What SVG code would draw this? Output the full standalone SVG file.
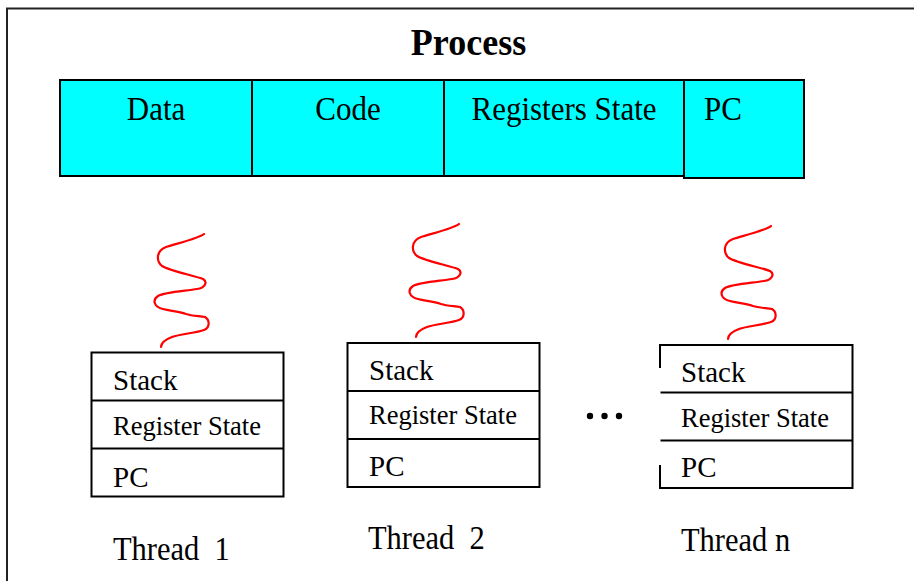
<svg xmlns="http://www.w3.org/2000/svg" xmlns:xlink="http://www.w3.org/1999/xlink" width="914" height="581" viewBox="0 0 914 581">
<style>
.t{font-family:"Liberation Serif","Times New Roman",serif;fill:#000}
.cell{fill:#00FFFF;stroke:#000;stroke-width:2}
.box{fill:#fff;stroke:#000;stroke-width:2}
.ln{stroke:#000;stroke-width:2;fill:none}
.sq{fill:none;stroke:#FF0000;stroke-width:2.2;stroke-linecap:round;stroke-linejoin:round}
</style>
<defs>
<path id="squig" class="sq" d="M204,234 C200,238 175,244 166,247 C156,251 156,261 162,266 C170,271 196,276 203,279 C208,282 205,288 197,289 C185,291 165,292 158,296 C152,300 154,307 163,309 C170,311 178,311 186,314 C192,316 200,316 205,317 C210,320 210,328 204,330 C196,333 180,334 172,337 C164,340 161,344 161,347"/>
</defs>
<rect width="914" height="581" fill="#fff"/>
<rect x="7" y="8.5" width="1000" height="1000" fill="none" stroke="#222" stroke-width="2"/>
<g id="title"><text class="t" font-size="36" font-weight="bold" text-anchor="middle" transform="translate(468.5,55) scale(1,1.05)">Process</text></g>
<g id="process-bar">
<rect class="cell" x="60" y="80" width="192" height="96"/>
<rect class="cell" x="252" y="80" width="192" height="96"/>
<rect class="cell" x="444" y="80" width="240" height="96"/>
<rect class="cell" x="684" y="80" width="120" height="98"/>
<text class="t" font-size="31" transform="translate(156,120) scale(1,1.1)" text-anchor="middle">Data</text>
<text class="t" font-size="31" transform="translate(348,120) scale(1,1.1)" text-anchor="middle">Code</text>
<text class="t" font-size="31" transform="translate(564,120) scale(1,1.1)" text-anchor="middle">Registers State</text>
<text class="t" font-size="31" transform="translate(704,120) scale(1,1.1)">PC</text>
</g>
<g id="threads-links">
<use xlink:href="#squig"/>
<use xlink:href="#squig" transform="translate(255,-10)"/>
<use xlink:href="#squig" transform="translate(567,-8)"/>
</g>
<g id="thread1">
<rect class="box" x="91.5" y="352.5" width="192" height="144"/>
<line class="ln" x1="91.5" y1="400.5" x2="283.5" y2="400.5"/>
<line class="ln" x1="91.5" y1="448.5" x2="283.5" y2="448.5"/>
<text class="t" x="113" y="390" font-size="29">Stack</text>
<text class="t" x="113" y="435" font-size="26.5">Register State</text>
<text class="t" x="113" y="487" font-size="29">PC</text>
<text class="t" font-size="30.5" xml:space="preserve" transform="translate(113,560) scale(1,1.1)">Thread  1</text>
</g>
<g id="thread2">
<rect class="box" x="347.5" y="343" width="192" height="144"/>
<line class="ln" x1="347.5" y1="391" x2="539.5" y2="391"/>
<line class="ln" x1="347.5" y1="439" x2="539.5" y2="439"/>
<text class="t" x="369" y="380" font-size="29">Stack</text>
<text class="t" x="369" y="424" font-size="26.5">Register State</text>
<text class="t" x="369" y="476" font-size="29">PC</text>
<text class="t" font-size="30.5" xml:space="preserve" transform="translate(368,549) scale(1,1.1)">Thread  2</text>
</g>
<g id="ellipsis">
<circle cx="590" cy="416" r="3.2"/>
<circle cx="604.5" cy="416" r="3.2"/>
<circle cx="619" cy="416" r="3.2"/>
</g>
<g id="threadn">
<rect x="660" y="345" width="192.5" height="143" fill="#fff"/>
<polyline class="ln" points="660,368 660,345 852.5,345 852.5,488 660,488 660,465"/>
<line class="ln" x1="660.5" y1="392.5" x2="852.5" y2="392.5"/>
<line class="ln" x1="660.5" y1="440.5" x2="852.5" y2="440.5"/>
<text class="t" x="681" y="382" font-size="29">Stack</text>
<text class="t" x="681" y="427" font-size="26.5">Register State</text>
<text class="t" x="681" y="477" font-size="29">PC</text>
<text class="t" font-size="30.5" transform="translate(681,551) scale(1,1.1)">Thread n</text>
</g>
</svg>
